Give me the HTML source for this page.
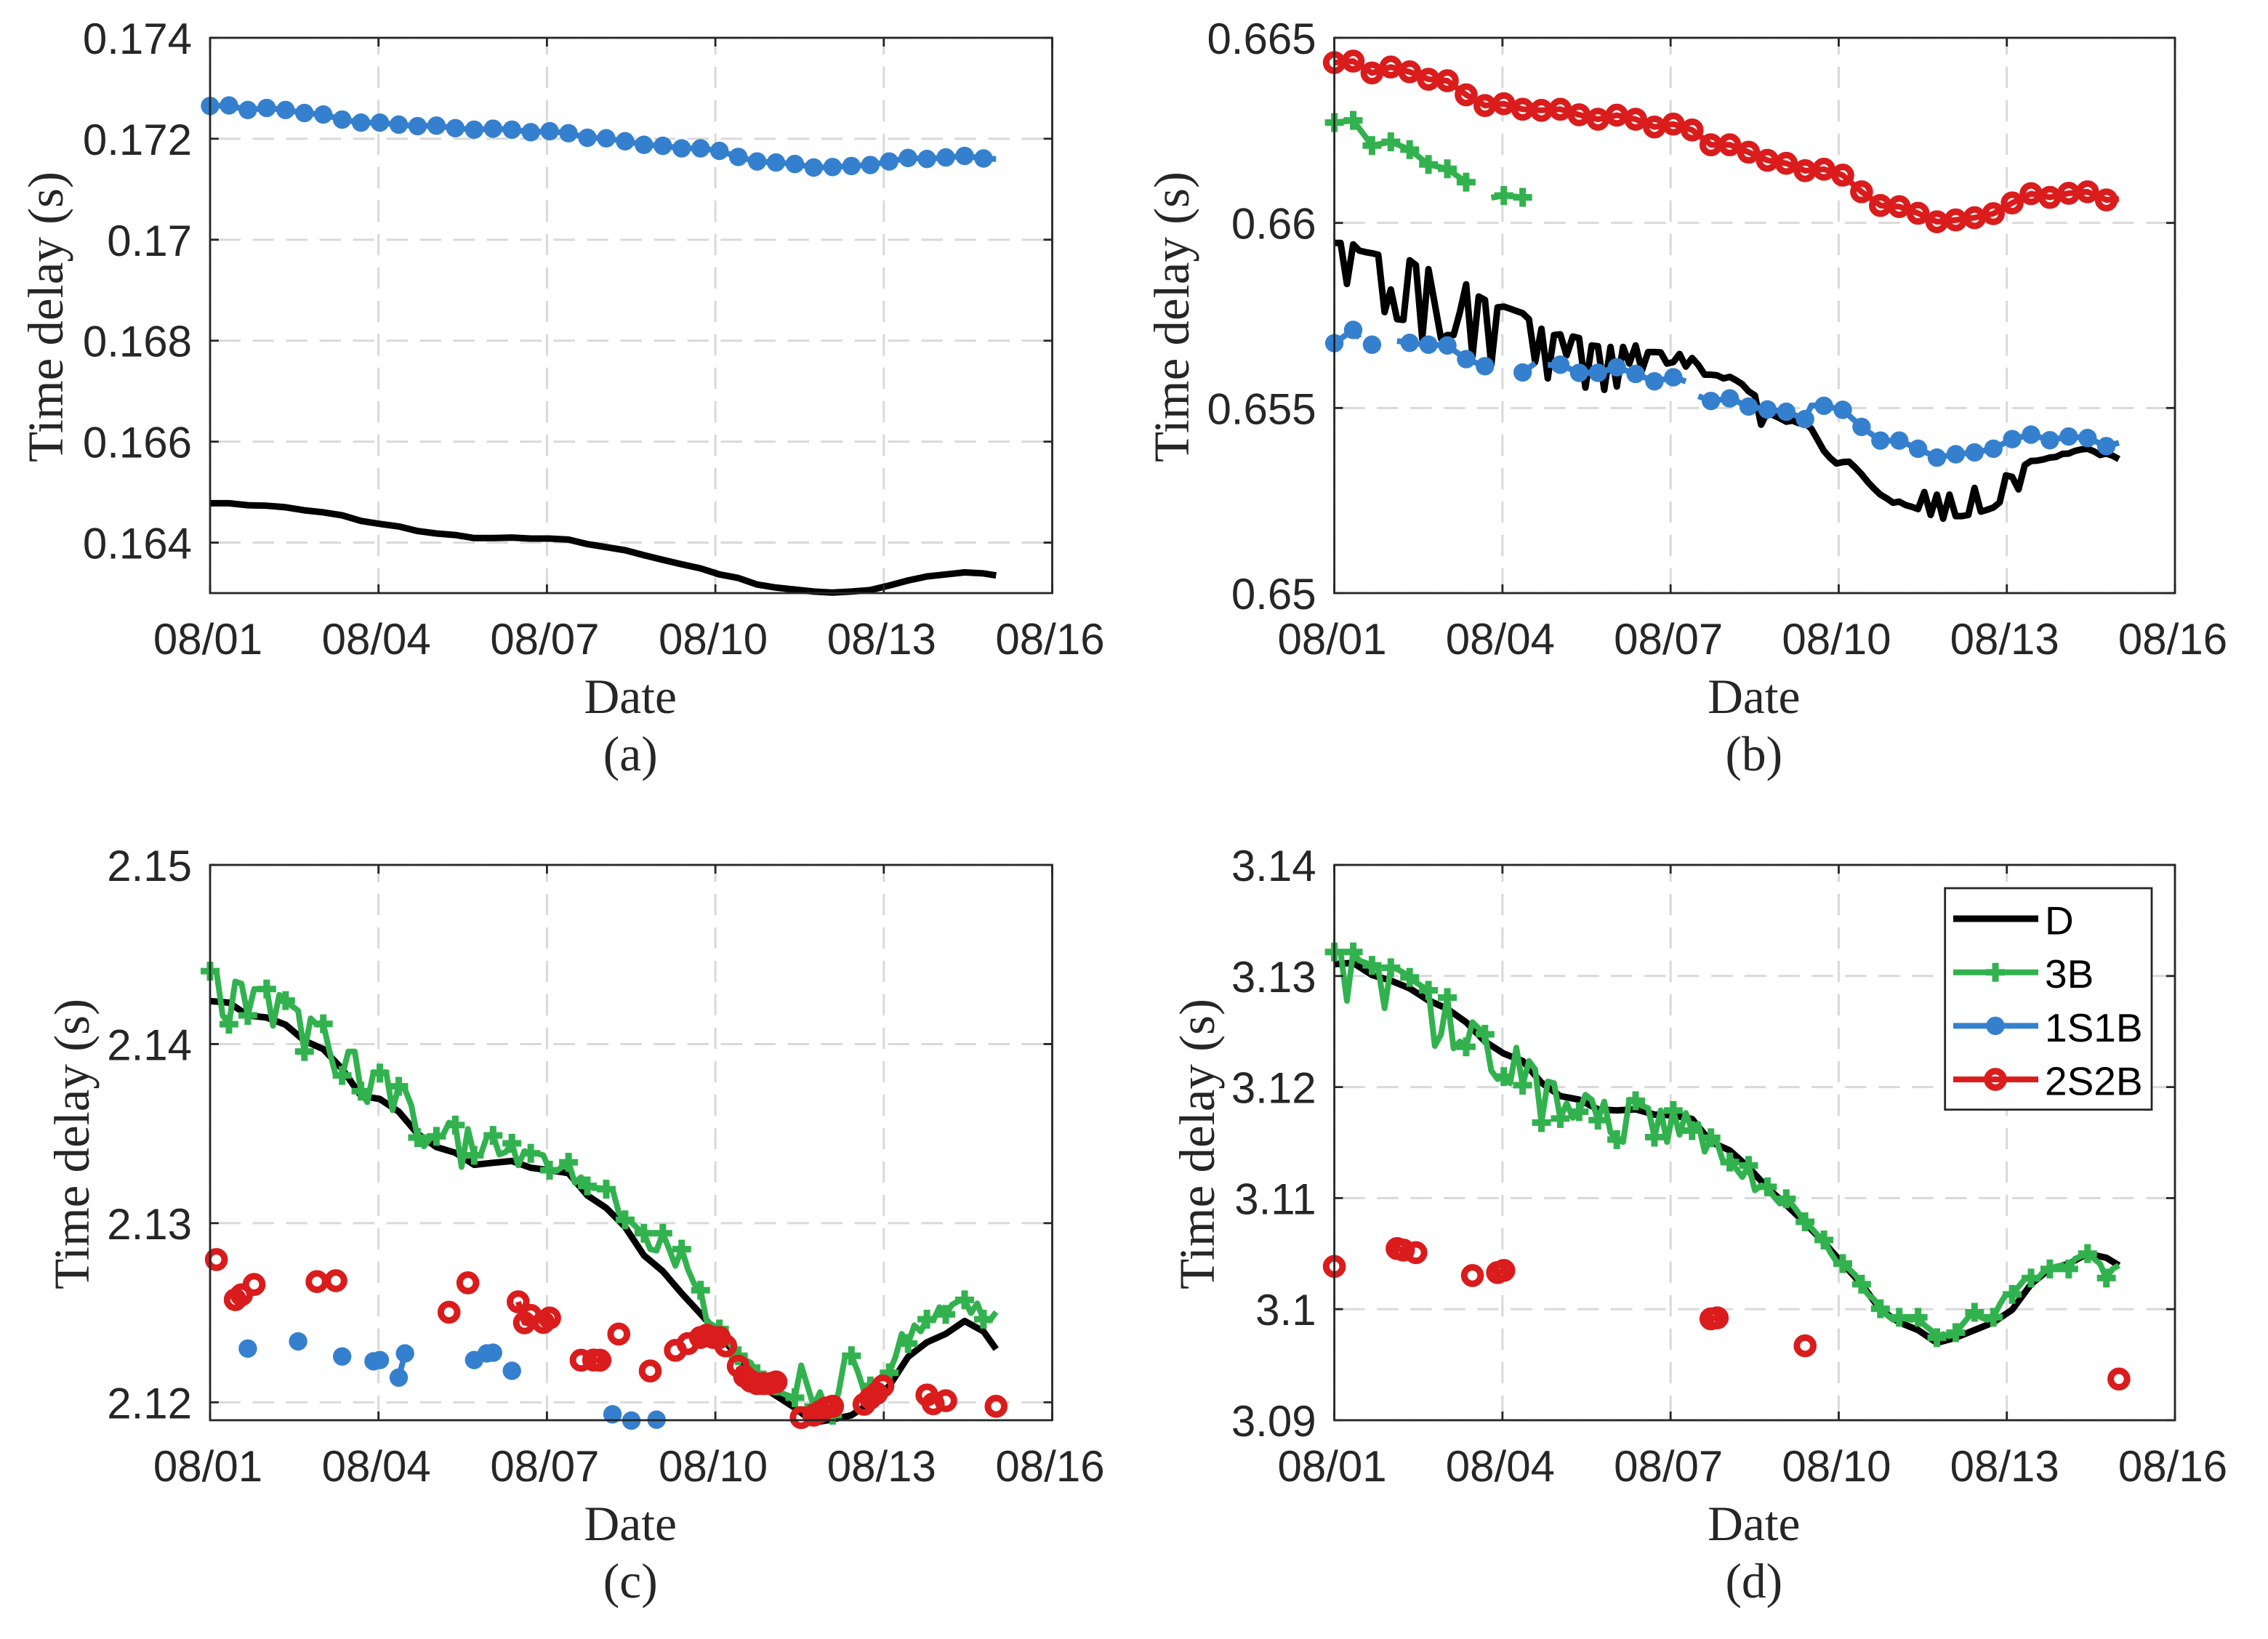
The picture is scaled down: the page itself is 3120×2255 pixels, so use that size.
<!DOCTYPE html>
<html lang="en">
<head>
<meta charset="utf-8">
<title>Time delay panels</title>
<style>
html,body{margin:0;padding:0;background:#fff;}
svg{display:block;}
.tick{font-family:"Liberation Sans",sans-serif;font-size:60px;fill:#262626;}
.title{font-family:"Liberation Serif",serif;font-size:67.5px;fill:#262626;}
.ytitle{font-family:"Liberation Serif",serif;font-size:69px;fill:#262626;}
.leg{font-family:"Liberation Sans",sans-serif;font-size:55px;fill:#000;}
</style>
</head>
<body>
<svg id="chart" xmlns="http://www.w3.org/2000/svg" width="3120" height="2255" viewBox="0 0 3120 2255">
<rect x="0" y="0" width="3120" height="2255" fill="#fff"/>
</svg>
<script>
// ---- shared axis data ----
const xTickDays = [0, 3, 6, 9, 12, 15];
const xTickLabels = ['08/01', '08/04', '08/07', '08/10', '08/13', '08/16'];
const sampleStepDays = 0.112;

// ---- panel (a) ----
const aYTicks = [0.164, 0.166, 0.168, 0.17, 0.172, 0.174];
const aYLabels = ['0.164', '0.166', '0.168', '0.17', '0.172', '0.174'];
const aDValues = [.16478,.16478,.16474,.16473,.16470,.16464,.16460,.16454,.16443,.16437,.16432,.16423,.16418,.16415,.16409,.16409,.16410,.16408,.16408,.16406,.16397,.16391,.16385,.16375,.16366,.16357,.16349,.16337,.16330,.16317,.16311,.16307,.16303,.16301,.16303,.16306,.16315,.16325,.16333,.16337,.16341,.16339,.16335];
const a1S1BValues = [.17265,.17266,.17257,.17261,.17257,.17251,.17248,.17238,.17232,.17232,.17228,.17225,.17226,.17221,.17218,.17220,.17218,.17213,.17215,.17211,.17202,.17201,.17195,.17188,.17186,.17181,.17181,.17176,.17164,.17155,.17153,.17150,.17143,.17144,.17146,.17148,.17155,.17162,.17160,.17163,.17166,.17161,.17160];

// ---- panel (b) ----
const bYTicks = [0.65, 0.655, 0.66, 0.665];
const bYLabels = ['0.65', '0.655', '0.66', '0.665'];
const bDValues = [.65946,.65946,.65835,.65942,.65925,.65921,.65918,.65914,.65759,.65820,
.65740,.65738,.65899,.65886,.65687,.65875,.65781,.65687,.65697,.65697,
.65759,.65834,.65639,.65801,.65792,.65616,.65772,.65774,.65768,.65762,
.65756,.65740,.65624,.65714,.65580,.65697,.65699,.65642,.65693,.65689,
.65555,.65669,.65667,.65549,.65665,.65558,.65665,.65620,.65669,.65601,
.65651,.65651,.65650,.65620,.65624,.65646,.65612,.65635,.65616,.65590,
.65590,.65588,.65580,.65584,.65575,.65564,.65545,.65534,.65455,.65489,
.65480,.65472,.65463,.65466,.65459,.65459,.65444,.65414,.65384,.65365,
.65350,.65354,.65355,.65339,.65321,.65300,.65282,.65266,.65256,.65244,
.65247,.65238,.65233,.65227,.65273,.65211,.65266,.65201,.65266,.65208,
.65208,.65211,.65284,.65220,.65225,.65231,.65245,.65318,.65314,.65280,
.65346,.65357,.65358,.65361,.65366,.65368,.65376,.65377,.65384,.65388,
.65390,.65383,.65373,.65377,.65371,.65362];
const b3BSamples = [0,3,6,9,12,15,18,21,null,25,27,30];
const b3BValues = [.66271,.66277,.66209,.66219,.66198,.66158,.66146,.66110,null,.66068,.66074,.66069];
const b1S1BSamples = [0,3,4,null,6,null,10,12,15,18,21,24,null,30,32,null,34,36,39,42,45,48,51,54,56,null,58,60,63,66,69,72,75,76,78,81,84,87,90,93,96,99,102,105,108,111,114,117,120,123,125];
const b1S1BValues = [.65675,.65711,.65689,null,.65671,null,.65681,.65676,.65671,.65669,.65632,.65613,null,.65596,.65621,null,.65616,.65617,.65595,.65595,.65610,.65592,.65572,.65583,.65572,null,.65532,.65519,.65526,.65504,.65496,.65490,.65470,.65507,.65506,.65495,.65449,.65412,.65412,.65390,.65366,.65375,.65380,.65390,.65416,.65428,.65413,.65423,.65419,.65397,.65406];
const b2S2BValues = [.66433,.66437,.66405,.66421,.66408,.66388,.66384,.66346,.66317,.66322,.66307,.66304,.66307,.66292,.66280,.66291,.66280,.66259,.66267,.66251,.66211,.66211,.66191,.66169,.66161,.66141,.66145,.66129,.66084,.66047,.66044,.66026,.66003,.66008,.66014,.66025,.66054,.66079,.66069,.66080,.66084,.66062,.66065];

// ---- panel (c) ----
const cYTicks = [2.12, 2.13, 2.14, 2.15];
const cYLabels = ['2.12', '2.13', '2.14', '2.15'];
const cDValues = [2.14240,2.14231,2.14160,2.14148,2.14108,2.14019,2.13972,2.13861,2.13711,2.13693,2.13623,2.13499,2.13425,2.13393,2.13326,2.13337,2.13347,2.13309,2.13296,2.13279,2.13155,2.13085,2.12979,2.12820,2.12732,2.12608,2.12494,2.12375,2.12254,2.12104,2.12037,2.11969,2.11887,2.11904,2.11928,2.11996,2.12091,2.12254,2.12335,2.12382,2.12454,2.12396,2.12297];
const c3BValues = [2.14407,2.14407,2.14160,2.14111,2.14349,2.14337,2.14160,2.14307,2.14307,2.14307,
2.14102,2.14275,2.14243,2.14213,2.14187,2.13958,2.14143,2.14108,2.14113,2.13958,
2.13825,2.13825,2.13958,2.13958,2.13737,2.13675,2.13843,2.13838,2.13843,2.13631,
2.13764,2.13746,2.13658,2.13478,2.13429,2.13473,2.13485,2.13490,2.13561,2.13548,
2.13314,2.13526,2.13379,2.13379,2.13481,2.13490,2.13384,2.13397,2.13446,2.13323,
2.13402,2.13390,2.13390,2.13379,2.13296,2.13291,2.13314,2.13340,2.13226,2.13256,
2.13208,2.13196,2.13196,2.13190,2.13190,2.13058,2.13019,2.13005,2.12970,2.12944,
2.12855,2.12847,2.12944,2.12855,2.12762,2.12855,2.12741,2.12661,2.12626,2.12450,
2.12430,2.12409,2.12362,2.12308,2.12260,2.12240,2.12220,2.12159,2.12131,2.12111,
2.12091,2.12050,2.12037,2.12026,2.12206,2.12091,2.11976,2.12057,2.11955,2.11928,
2.12064,2.12260,2.12260,2.12172,2.12064,2.12091,2.12118,2.12152,2.12165,2.12254,
2.12382,2.12328,2.12430,2.12396,2.12464,2.12457,2.12531,2.12491,2.12545,2.12565,
2.12572,2.12498,2.12552,2.12464,2.12457,2.12504];
const c1S1BSamples = [6,14,21,26,27,30,31,42,44,45,48,64,67,71];
const c1S1BValues = [2.12300,2.12340,2.12256,2.12229,2.12236,2.12138,2.12273,2.12236,2.12273,2.12277,2.12176,2.11933,2.11898,2.11903];
const c2S2BSamples = [1,4,5,7,17,20,38,41,49,50,51,53,54,59,61,62,65,70,74,76,78,79,80,81,82,84,85,86,87,88,89,90,94,96,97,98,99,104,105,106,107,114,115,117,125];
const c2S2BValues = [2.12797,2.12573,2.12600,2.12658,2.12674,2.12679,2.12503,2.12667,2.12561,2.12444,2.12485,2.12446,2.12471,2.12235,2.12236,2.12235,2.12381,2.12175,2.12290,2.12328,2.12362,2.12375,2.12362,2.12362,2.12315,2.12202,2.12145,2.12118,2.12104,2.12104,2.12104,2.12114,2.11915,2.11928,2.11948,2.11969,2.11978,2.11989,2.12023,2.12050,2.12091,2.12041,2.11992,2.12009,2.11978];

// ---- panel (d) ----
const dYTicks = [3.09, 3.1, 3.11, 3.12, 3.13, 3.14];
const dYLabels = ['3.09', '3.1', '3.11', '3.12', '3.13', '3.14'];
const dDValues = [3.13107,3.13118,3.13009,3.12959,3.12889,3.12780,3.12704,3.12584,3.12410,3.12301,3.12235,3.12039,3.11919,3.11887,3.11800,3.11789,3.11800,3.11752,3.11745,3.11712,3.11505,3.11429,3.11277,3.11092,3.10939,3.10776,3.10601,3.10410,3.10225,3.09995,3.09881,3.09812,3.09697,3.09743,3.09812,3.09881,3.09995,3.10225,3.10362,3.10408,3.10500,3.10463,3.10394];
const d3BValues = [3.13216,3.13216,3.12776,3.13216,3.13139,3.13118,3.13096,3.13063,3.12710,3.13074,
3.13063,3.13030,3.12987,3.12943,3.12906,3.12871,3.12370,3.12475,3.12806,3.12349,
3.12410,3.12362,3.12584,3.12529,3.12475,3.12148,3.12072,3.12094,3.12035,3.12355,
3.12017,3.12235,3.12159,3.11680,3.12050,3.12035,3.11717,3.11854,3.11723,3.11778,
3.11930,3.11887,3.11702,3.11869,3.11593,3.11527,3.11505,3.11887,3.11876,3.11832,
3.11810,3.11549,3.11789,3.11505,3.11789,3.11571,3.11767,3.11608,3.11669,3.11418,
3.11543,3.11495,3.11320,3.11325,3.11266,3.11190,3.11294,3.11070,3.11113,3.11102,
3.11015,3.10950,3.10994,3.10939,3.10863,3.10787,3.10732,3.10667,3.10623,3.10514,
3.10427,3.10410,3.10362,3.10307,3.10225,3.10133,3.10087,3.10004,3.09949,3.09904,
3.09927,3.09913,3.09904,3.09927,3.09858,3.09812,3.09743,3.09775,3.09757,3.09789,
3.09858,3.09927,3.09972,3.09927,3.09904,3.09927,3.10041,3.10133,3.10133,3.10202,
3.10271,3.10280,3.10271,3.10339,3.10362,3.10385,3.10394,3.10362,3.10454,3.10477,
3.10500,3.10454,3.10408,3.10280,3.10362,3.10394];
const d2S2BSamples = [0,10,11,13,22,26,27,60,61,75,125];
const d2S2BValues = [3.10385,3.10546,3.10532,3.10509,3.10303,3.10330,3.10349,3.09913,3.09922,3.09670,3.09371];

// ---- legend ----
const legendLabels = ['D', '3B', '1S1B', '2S2B'];

// ---- styling ----
const COL = {D:'#000000', '3B':'#32B24E', '1S1B':'#3580CE', '2S2B':'#DA1C1C'};
const WID = {D:9, '3B':8, '1S1B':8, '2S2B':8};
const NS = 'http://www.w3.org/2000/svg';
const root = document.getElementById('chart');

function make(tag, attrs, parent) {
  const el = document.createElementNS(NS, tag);
  for (const k in attrs) el.setAttribute(k, attrs[k]);
  parent.appendChild(el);
  return el;
}
function label(el, name) {
  
  
  return el;
}
function every3(vals) {
  return vals.map((v, k) => Math.min(k * 3, 125));
}
function everySample(vals) {
  return vals.map((v, k) => k);
}
function drawMarker(g, kind, px, py, name) {
  if (kind === '3B') {
    const m = make('path', {d:`M${px-13} ${py}H${px+13}M${px} ${py-13}V${py+13}`, stroke:COL[kind], 'stroke-width':9, fill:'none'}, g);
    label(m, name);
  } else if (kind === '1S1B') {
    const m = make('circle', {cx:px, cy:py, r:12.7, fill:COL[kind]}, g);
    label(m, name);
  } else if (kind === '2S2B') {
    const m = make('circle', {cx:px, cy:py, r:11.3, fill:'none', stroke:COL[kind], 'stroke-width':9}, g);
    label(m, name);
  }
}
function drawSeries(g, P, kind, samples, vals, maxGap, markAll) {
  let d = '', prev = null;
  const xs = s => P.x(s * sampleStepDays);
  samples.forEach((s, k) => {
    if (s === null || vals[k] === null) { prev = null; return; }
    const cmd = (prev !== null && s - prev <= maxGap) ? 'L' : 'M';
    d += cmd + xs(s).toFixed(1) + ' ' + P.y(vals[k]).toFixed(1);
    prev = s;
  });
  const line = make('path', {d:d, fill:'none', stroke:COL[kind], 'stroke-width':WID[kind], 'stroke-linejoin':'round', 'stroke-linecap':'butt'}, g);
  label(line, P.id + '-series-' + kind.toLowerCase() + '-line');
  if (kind === 'D') return;
  samples.forEach((s, k) => {
    if (s === null || vals[k] === null) return;
    if (markAll || s % 3 === 0) {
      drawMarker(g, kind, xs(s), P.y(vals[k]), P.id + '-' + kind.toLowerCase() + '-marker');
    }
  });
}
function drawAxes(P, yTicks, yLabels, ttl) {
  const g = label(make('g', {}, root), 'panel-' + P.id);
  const grid = label(make('g', {stroke:'#D9D9D9', 'stroke-width':3, fill:'none'}, g), P.id + '-grid');
  yTicks.forEach(t => {
    const l = make('line', {x1:P.l, x2:P.r, y1:P.y(t), y2:P.y(t), 'stroke-dasharray':'29.5 16.5', 'stroke-dashoffset':33.5}, grid);
    label(l, P.id + '-horizontal-gridline');
  });
  xTickDays.forEach(t => {
    const l = make('line', {x1:P.x(t), x2:P.x(t), y1:P.t, y2:P.b, 'stroke-dasharray':'29.5 16.5', 'stroke-dashoffset':6.3}, grid);
    label(l, P.id + '-vertical-gridline');
  });
  const plot = label(make('g', {}, g), P.id + '-series');
  const ax = label(make('g', {stroke:'#262626', 'stroke-width':2.8, fill:'none'}, g), P.id + '-axes');
  const box = make('rect', {x:P.l, y:P.t, width:P.r-P.l, height:P.b-P.t}, ax);
  label(box, P.id + '-axes-box');
  xTickDays.forEach((t, i) => {
    const tk = make('path', {d:`M${P.x(t)} ${P.b}v-12M${P.x(t)} ${P.t}v12`}, ax);
    label(tk, P.id + '-x-tick');
    const tx = make('text', {class:'tick', x:P.x(t)-3, y:P.b+84, 'text-anchor':'middle'}, g);
    tx.textContent = xTickLabels[i];
    label(tx, P.id + '-x-tick-label');
  });
  yTicks.forEach((t, i) => {
    const tk = make('path', {d:`M${P.l} ${P.y(t)}h12M${P.r} ${P.y(t)}h-12`}, ax);
    label(tk, P.id + '-y-tick');
    const tx = make('text', {class:'tick', x:P.l-25, y:P.y(t)+22, 'text-anchor':'end'}, g);
    tx.textContent = yLabels[i];
    label(tx, P.id + '-y-tick-label');
  });
  const xt = make('text', {class:'title', x:(P.l+P.r)/2-1, y:P.b+165, 'text-anchor':'middle'}, g);
  xt.textContent = 'Date';
  label(xt, P.id + '-x-axis-title');
  const cap = make('text', {class:'title', x:(P.l+P.r)/2-1, y:P.b+244, 'text-anchor':'middle'}, g);
  cap.textContent = ttl;
  label(cap, P.id + '-caption');
  const ym = (P.t+P.b)/2+2;
  const yt = make('text', {class:'ytitle', x:P.yTitleX, y:ym, 'text-anchor':'middle', transform:`rotate(-90 ${P.yTitleX} ${ym})`}, g);
  yt.textContent = 'Time delay (s)';
  label(yt, P.id + '-y-axis-title');
  return plot;
}
function panel(id, l, r, t, b, yMin, yMax, yTitleX) {
  return {id, l, r, t, b, yTitleX,
    x: d => l + d / 15 * (r - l),
    y: v => b - (v - yMin) / (yMax - yMin) * (b - t)};
}

const PA = panel('a', 289, 1447.5, 52, 816, 0.163, 0.174, 86);
const PB = panel('b', 1835.6, 2992, 52, 816, 0.65, 0.665, 1635);
const PC = panel('c', 289, 1447.5, 1190, 1954, 2.119, 2.15, 122);
const PD = panel('d', 1835.6, 2992, 1190, 1954, 3.09, 3.14, 1670);

const ga = drawAxes(PA, aYTicks, aYLabels, '(a)');
drawSeries(ga, PA, 'D', every3(aDValues), aDValues, 3, false);
drawSeries(ga, PA, '1S1B', every3(a1S1BValues), a1S1BValues, 3, false);

const gb = drawAxes(PB, bYTicks, bYLabels, '(b)');
drawSeries(gb, PB, 'D', everySample(bDValues), bDValues, 1, false);
drawSeries(gb, PB, '3B', b3BSamples, b3BValues, 3, false);
drawSeries(gb, PB, '1S1B', b1S1BSamples, b1S1BValues, 3, false);
drawSeries(gb, PB, '2S2B', every3(b2S2BValues), b2S2BValues, 3, false);

const gc = drawAxes(PC, cYTicks, cYLabels, '(c)');
drawSeries(gc, PC, 'D', every3(cDValues), cDValues, 3, false);
drawSeries(gc, PC, '3B', everySample(c3BValues), c3BValues, 1, false);
drawSeries(gc, PC, '1S1B', c1S1BSamples, c1S1BValues, 1, true);
drawSeries(gc, PC, '2S2B', c2S2BSamples, c2S2BValues, 1, true);

const gd = drawAxes(PD, dYTicks, dYLabels, '(d)');
drawSeries(gd, PD, 'D', every3(dDValues), dDValues, 3, false);
drawSeries(gd, PD, '3B', everySample(d3BValues), d3BValues, 1, false);
drawSeries(gd, PD, '2S2B', d2S2BSamples, d2S2BValues, 1, true);

// legend in panel (d)
const lg = label(make('g', {}, root), 'legend');
const lgBox = make('rect', {x:2675.7, y:1222, width:284.3, height:304.7, fill:'#fff', stroke:'#262626', 'stroke-width':2.8}, lg);
label(lgBox, 'legend-box');
legendLabels.forEach((name, i) => {
  const ly = 1264 + i * 73.7;
  const e = label(make('g', {}, lg), 'legend-entry-' + name.toLowerCase());
  const ln = make('line', {x1:2687, x2:2804, y1:ly, y2:ly, stroke:COL[name], 'stroke-width':WID[name]}, e);
  label(ln, 'legend-line-' + name.toLowerCase());
  drawMarker(e, name, 2745, ly, 'legend-marker-' + name.toLowerCase());
  const t = make('text', {class:'leg', x:2813, y:ly+21.5}, e);
  t.textContent = name;
  label(t, 'legend-label-' + name.toLowerCase());
});
</script>
</body>
</html>
